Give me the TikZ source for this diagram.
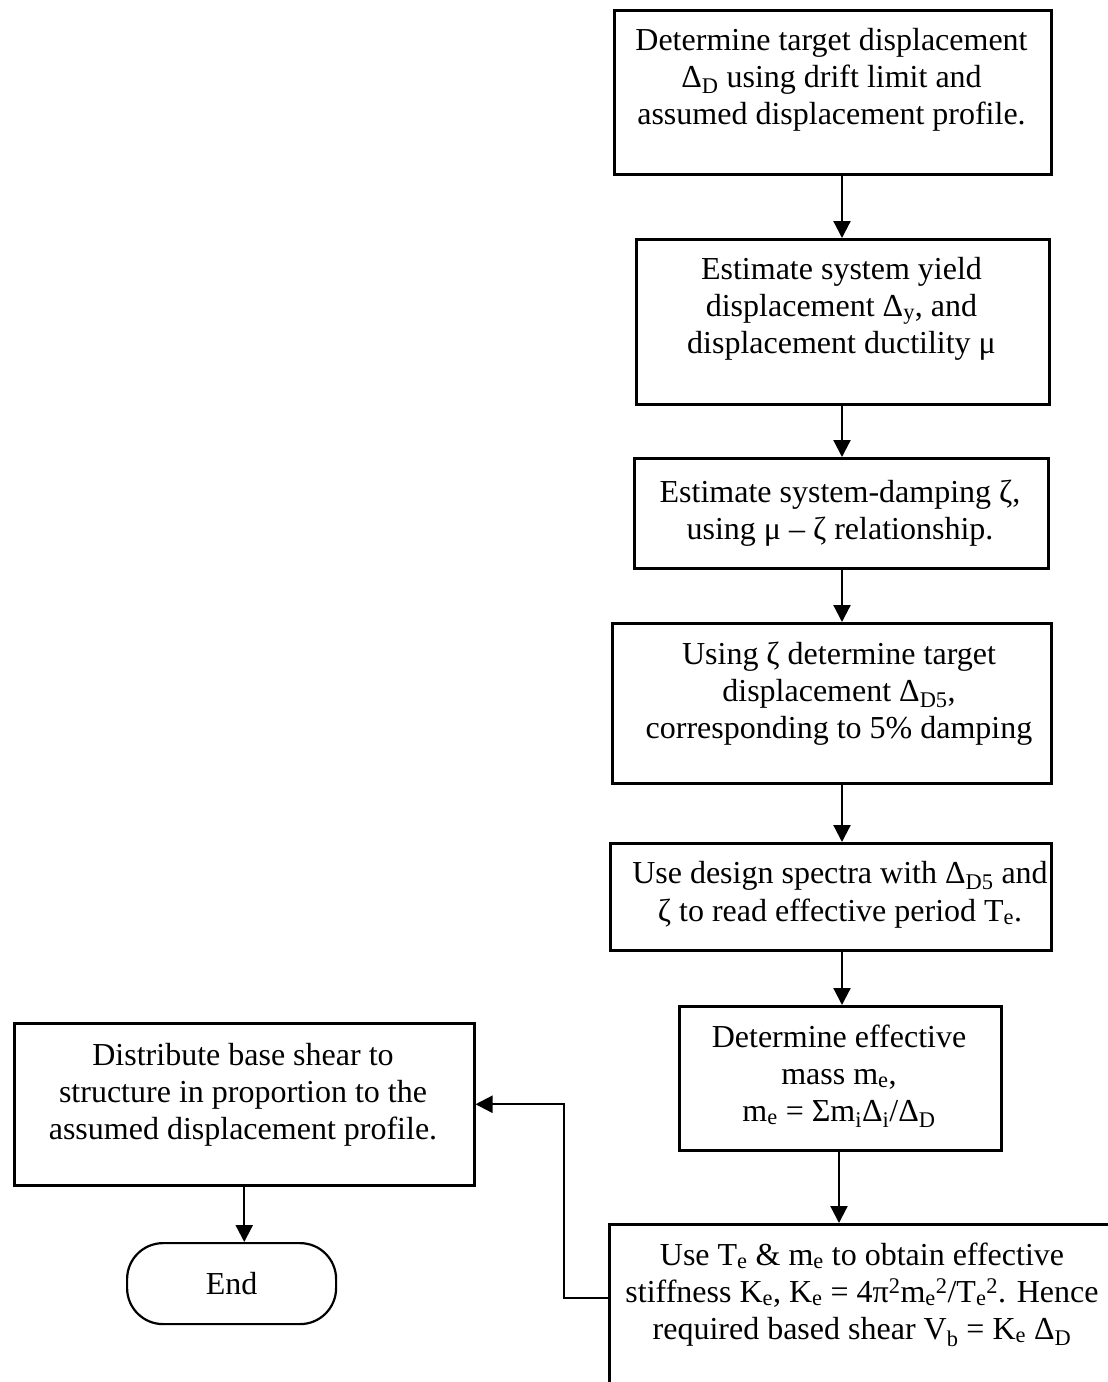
\documentclass[tikz,border=0pt]{standalone}
\usepackage{fontspec}
\setmainfont{Liberation Serif}
\usetikzlibrary{arrows.meta}
\begin{document}
\begin{tikzpicture}[x=1pt,y=-1pt,
  stepbox/.style={draw, line width=2.5pt, inner sep=0pt, anchor=north west},
  endbox/.style={draw, line width=2.2pt, rounded corners=36pt, inner sep=0pt,
    anchor=north west, font=\fontsize{32}{37}\selectfont},
  txt/.style={anchor=north, yshift=0.7*#1, inner sep=0pt, align=center,
    font=\fontsize{32}{#1}\selectfont},
  txt/.default=37pt,
  flow/.style={line width=2.2pt, -{Triangle[width=17pt,length=17pt]}}]
\useasboundingbox (0,0) rectangle (1108,1382);

% process boxes of the main column
\node[stepbox, minimum width=437pt, minimum height=164pt] (b1) at (613,9) {};
\node[stepbox, minimum width=413pt, minimum height=165pt] (b2) at (635,238) {};
\node[stepbox, minimum width=414pt, minimum height=110pt] (b3) at (633,457) {};
\node[stepbox, minimum width=439pt, minimum height=160pt] (b4) at (611,622) {};
\node[stepbox, minimum width=441pt, minimum height=107pt] (b5) at (609,842) {};
\node[stepbox, minimum width=322pt, minimum height=144pt] (b6) at (678,1005) {};
\node[stepbox, minimum width=508pt, minimum height=180pt] (b7) at (608,1223) {};
% final distribution step and terminator
\node[stepbox, minimum width=460pt, minimum height=162pt] (bL) at (13,1022) {};
\node[endbox, minimum width=209pt, minimum height=81pt] (theend) at (126,1242) {End};

% box texts (placed by first baseline)
\node[txt] (t1) at (831.5,50) {\strut Determine target displacement\\
  Δ\textsubscript{D} using drift limit and\\ assumed displacement profile.};
\node[txt] (t2) at (841.5,279) {\strut Estimate system yield\\
  displacement Δ\textsubscript{y}, and\\ displacement ductility μ};
\node[txt=37.5pt] (t3) at (840,502) {\strut Estimate system-damping ζ,\\
  using μ – ζ relationship.};
\node[txt] (t4) at (839,664) {\strut Using ζ determine target\\
  displacement Δ\textsubscript{D5},\\ corresponding to 5\% damping};
\node[txt=38pt] (t5) at (840,883) {\strut Use design spectra with Δ\textsubscript{D5} and\\
  ζ to read effective period T\textsubscript{e}.};
\node[txt=37pt] (t6) at (839,1047) {\strut Determine effective\\
  mass m\textsubscript{e},\\
  m\textsubscript{e} = Σm\textsubscript{i}Δ\textsubscript{i}/Δ\textsubscript{D}};
\node[txt=37pt] (t7) at (862,1265) {\strut Use T\textsubscript{e} \& m\textsubscript{e} to obtain effective\\
  stiffness K\textsubscript{e}, K\textsubscript{e} = 4π\textsuperscript{2}m\textsubscript{e}\textsuperscript{2}/T\textsubscript{e}\textsuperscript{2}. Hence\\
  required based shear V\textsubscript{b} = K\textsubscript{e} Δ\textsubscript{D}};
\node[txt] (tL) at (243,1065) {\strut Distribute base shear to\\
  structure in proportion to the\\ assumed displacement profile.};

% connectors
\coordinate (spine) at (842,0);
\coordinate (spinelow) at (839,0);
\coordinate (fbk) at (564,1298);
\draw[flow] (b1.south -| spine) -- (b2.north -| spine);
\draw[flow] (b2.south -| spine) -- (b3.north -| spine);
\draw[flow] (b3.south -| spine) -- (b4.north -| spine);
\draw[flow] (b4.south -| spine) -- (b5.north -| spine);
\draw[flow] (b5.south -| spine) -- (b6.north -| spine);
\draw[flow] (b6.south -| spinelow) -- (b7.north -| spinelow);
\draw[flow] (b7.west |- fbk) -- (fbk) |- (bL.east);
\draw[flow] (bL.south) -- (bL.south |- theend.north);
\end{tikzpicture}
\end{document}
